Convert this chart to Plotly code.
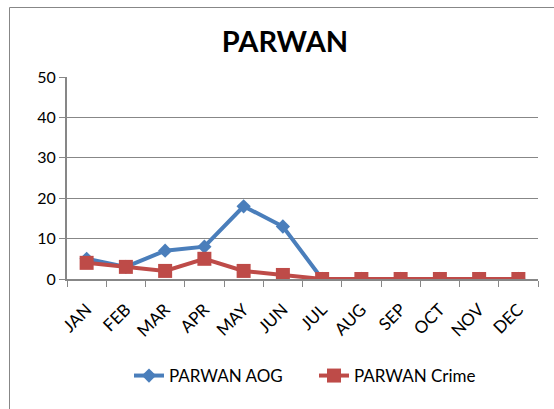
import plotly.graph_objects as go

months = ["JAN", "FEB", "MAR", "APR", "MAY", "JUN", "JUL", "AUG", "SEP", "OCT", "NOV", "DEC"]
aog = [5, 3, 7, 8, 18, 13, 0, 0, 0, 0, 0, 0]
crime = [4, 3, 2, 5, 2, 1, 0, 0, 0, 0, 0, 0]
y_ticks = [0, 10, 20, 30, 40, 50]

BLUE = "#4A7EBB"
RED = "#BE4B48"
GRID = "#878787"
FONT = "Lato"

W, H = 554, 409
L, R, T, B = 67, 538, 77, 279

fig = go.Figure()
fig.add_trace(go.Scatter(
    x=months, y=aog, name="PARWAN AOG", mode="lines+markers",
    line=dict(color=BLUE, width=4),
    marker=dict(symbol="diamond", size=11, color=BLUE),
))
fig.add_trace(go.Scatter(
    x=months, y=crime, name="PARWAN Crime", mode="lines+markers",
    line=dict(color=RED, width=4),
    marker=dict(symbol="square", size=14, color=RED),
))

def px_to_paper_x(px):
    return (px - L) / (R - L)

def px_to_paper_y(py):
    return (B - py) / (B - T)

fig.add_shape(type="rect", xref="paper", yref="paper",
              x0=px_to_paper_x(9.5), x1=px_to_paper_x(600),
              y0=px_to_paper_y(500), y1=px_to_paper_y(7.5),
              line=dict(color=GRID, width=1), fillcolor="rgba(0,0,0,0)", layer="below")

fig.update_layout(
    width=W, height=H,
    margin=dict(l=L, r=W - R, t=T, b=H - B, pad=0),
    paper_bgcolor="white", plot_bgcolor="white",
    font=dict(family=FONT, size=17, color="black"),
    title=dict(text="<b>PARWAN</b>", x=285 / W, xanchor="center",
               y=1 - 42 / H, yanchor="middle",
               font=dict(family=FONT, size=29, color="black")),
    showlegend=True,
    legend=dict(orientation="h", x=px_to_paper_x(129), xanchor="left",
                y=px_to_paper_y(376), yanchor="middle",
                entrywidth=140, entrywidthmode="pixels",
                font=dict(family=FONT, size=17, color="black"),
                bgcolor="rgba(0,0,0,0)"),
    xaxis=dict(type="category", categoryorder="array", categoryarray=months,
               range=[-0.5, 11.5], showgrid=False, zeroline=False,
               showline=True, linecolor=GRID, linewidth=2,
               ticks="outside", tickson="boundaries", ticklen=6, tickcolor=GRID, tickwidth=1,
               ticklabelstandoff=12,
               tickangle=-45, tickfont=dict(family=FONT, size=17, color="black")),
    yaxis=dict(range=[0, 50], tickvals=y_ticks, showgrid=True, gridcolor=GRID, gridwidth=1,
               zeroline=False, showline=True, linecolor=GRID, linewidth=2,
               ticks="outside", ticklen=6, tickcolor=GRID, tickwidth=1,
               tickfont=dict(family=FONT, size=16, color="black")),
)

fig.write_html("out.html", config={"displayModeBar": False})

with open("out.html", "r", encoding="utf-8") as f:
    html = f.read()
html = html.replace("<body>", '<body style="margin:0;padding:0;">', 1)
html = html.replace("<head>", "<head><style>html,body{margin:0;padding:0;overflow:hidden;}</style>", 1)
with open("out.html", "w", encoding="utf-8") as f:
    f.write(html)
